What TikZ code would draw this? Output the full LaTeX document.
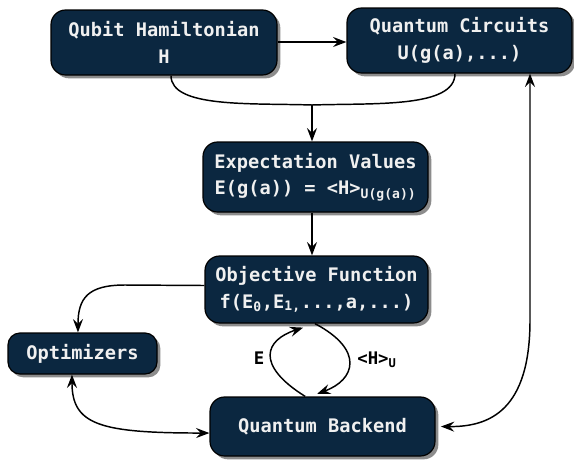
\documentclass[tikz,border=0pt]{standalone}
\usepackage{fontspec}
\setmonofont{DejaVu Sans Mono}
\usetikzlibrary{shadows,arrows.meta}
\definecolor{boxfill}{HTML}{0B2740}
\begin{document}
\begin{tikzpicture}[x=0.75pt,y=-0.75pt,
  box/.style={draw=black, line width=0.9pt, fill=boxfill, text=white!94!black,
    rounded corners=11pt, align=center, inner sep=0pt,
    font=\ttfamily\bfseries\fontsize{14}{20}\selectfont,
    drop shadow={shadow xshift=2.5pt, shadow yshift=-2.5pt, opacity=0.45, fill=black}},
  conn/.style={line width=1.1pt, draw=black},
  tip/.tip={Stealth[length=10pt,width=7.5pt,inset=3.5pt]},
  arr/.style={conn, -tip},
  darr/.style={conn, tip-tip},
  lbl/.style={font=\ttfamily\bfseries\fontsize{13}{16}\selectfont, text=black}
]
\useasboundingbox (0,0) rectangle (574,461);

\node[box, minimum width=169.5pt, minimum height=48.75pt] (ham) at (164,42.5) {Qubit Hamiltonian\\H};
\node[box, minimum width=168.75pt, minimum height=48.75pt] (qc) at (459.5,40.5) {Quantum Circuits\\U(g(a),...)};
\node[box, minimum width=168.75pt, minimum height=52.5pt] (ev) at (315.5,177) {Expectation Values\\E(g(a)) = <H>\textsubscript{U(g(a))}};
\node[box, minimum width=167.25pt, minimum height=50.25pt] (obj) at (316.5,289.5) {Objective Function\\f(E\textsubscript{0},E\textsubscript{1,}...,a,...)};
\node[box, minimum width=111.75pt, minimum height=30.75pt, rounded corners=9pt] (opt) at (82.5,353.5) {Optimizers};
\node[box, minimum width=168.75pt, minimum height=44.25pt] (qb) at (322.5,426.5) {Quantum Backend};

\coordinate (m) at (312,105);
\coordinate (hx) at (171,0);
\coordinate (qx) at (455,0);
\coordinate (rx) at (530,0);

% Hamiltonian -> Circuits
\draw[arr] (ham.east |- 0,42) -- (qc.west |- 0,42);
% merge to expectation
\draw[conn] (ham.south -| hx) .. controls (171,108) and (250,103) .. (m);
\draw[conn] (qc.south -| qx) .. controls (455,108) and (375,103) .. (m);
\draw[arr] (m) -- (m |- ev.north);
% expectation -> objective
\draw[arr] (m |- ev.south) -- (m |- obj.north);
% objective -> optimizers
\draw[arr] ([yshift=3pt]obj.west) -- (125,285) .. controls (88,285) and (78,298) .. ([xshift=-3.4pt]opt.north);
% optimizers <-> backend
\draw[darr] ([xshift=-7.9pt]opt.south) .. controls (72,425) and (100,433) .. ([yshift=-4.9pt]qb.west);
% loop
\draw[arr] ([xshift=-13pt]qb.north) .. controls (255,365) and (265,340) .. ([xshift=-10pt,yshift=-3pt]obj.south);
\draw[arr] ([xshift=-1.2pt]obj.south) .. controls (365,350) and (355,380) .. ([xshift=-4pt,yshift=2pt]qb.north);
\node[lbl] (le) at (259,358) {E};
\node[lbl] (lh) at (377,360) {<H>\textsubscript{U}};
% circuits <-> backend
\draw[darr] (qc.south -| rx) -- (530,320) .. controls (530,410) and (490,427) .. ([xshift=4pt]qb.east);
\end{tikzpicture}
\end{document}
